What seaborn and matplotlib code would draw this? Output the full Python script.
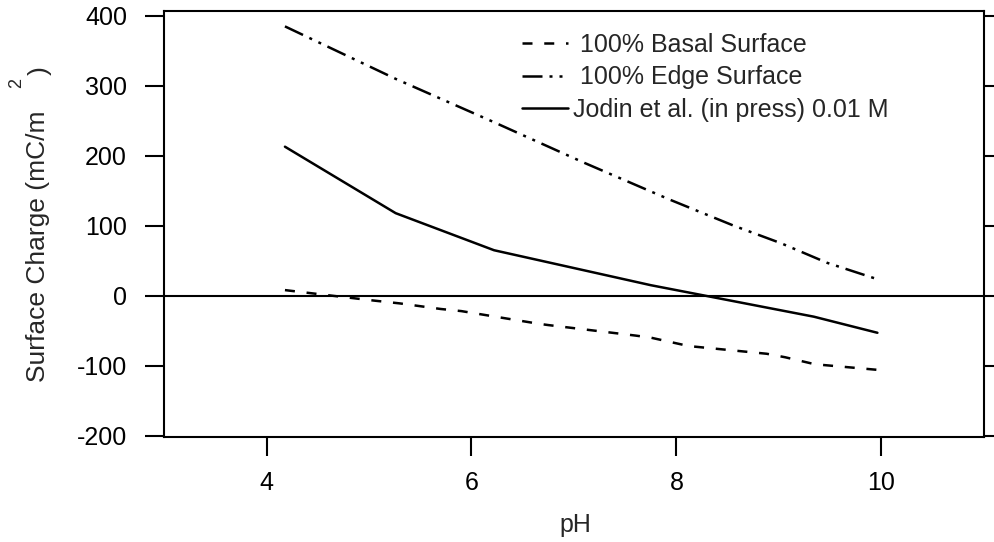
import pandas as pd
import matplotlib
matplotlib.use("Agg")
import matplotlib.pyplot as plt
import seaborn as sns

# 数据
ph_basal = [4.18, 4.64, 5.05, 5.30, 5.70, 5.90, 6.65, 6.75, 7.60, 7.75, 8.12, 8.88, 9.06, 9.35, 9.96]
charge_basal = [8, 0, -7, -11, -19, -22, -40, -42, -57, -60, -72, -83, -88, -98, -106]

ph_edge = [4.18, 5.26, 6.22, 7.10, 7.94, 8.56, 9.02, 9.47, 9.93]
charge_edge = [385, 310, 248, 190, 137, 100, 75, 47, 25]

ph_jodin = [4.18, 5.26, 6.22, 7.75, 9.34, 9.96]
charge_jodin = [213, 118, 65, 15, -30, -53]

series_names = [" 100% Basal Surface", " 100% Edge Surface", "Jodin et al. (in press) 0.01 M"]
x_ticks = [4, 6, 8, 10]
y_ticks = [-200, -100, 0, 100, 200, 300, 400]


def setup_style():
    sns.set_style("ticks")
    plt.rcParams['font.family'] = ['Liberation Sans', 'DejaVu Sans']
    plt.rcParams['font.size'] = 18
    plt.rcParams['axes.unicode_minus'] = False


setup_style()

df = pd.concat([
    pd.DataFrame({'pH': ph_basal, 'charge': charge_basal, 'series': series_names[0]}),
    pd.DataFrame({'pH': ph_edge, 'charge': charge_edge, 'series': series_names[1]}),
    pd.DataFrame({'pH': ph_jodin, 'charge': charge_jodin, 'series': series_names[2]}),
], ignore_index=True)

line_w = 1.8
dash_map = {
    series_names[0]: (4.0, 4.7),
    series_names[1]: (8.0, 2.8, 1.2, 2.8, 1.2, 2.8),
    series_names[2]: "",
}

fig = plt.figure(figsize=(9.95, 5.42), dpi=100)
ax = fig.add_axes([164 / 995, 105 / 542, 820 / 995, 426 / 542])

sns.lineplot(data=df, x='pH', y='charge', style='series', style_order=series_names,
             dashes=dash_map, color='black', linewidth=line_w, estimator=None,
             sort=False, ax=ax)
ax.axhline(0, color='black', linewidth=1.5)

ax.set_xlim(3, 11)
ax.set_ylim(-202, 407)
ax.set_xticks(x_ticks)
ax.set_yticks(y_ticks)
ax.set_xlabel('')
ax.set_ylabel('')

for side in ['left', 'right', 'top', 'bottom']:
    ax.spines[side].set_visible(True)
    ax.spines[side].set_linewidth(1.5)
    ax.spines[side].set_color('black')

ax.tick_params(axis='both', direction='out', length=13.7, width=1.5, colors='black',
               labelsize=18)
ax.tick_params(axis='y', left=True, right=True, labelright=False, pad=13)
ax.tick_params(axis='x', bottom=True, top=False, pad=11)

# 图例
old = ax.get_legend()
handles = list(old.legend_handles)
labels = [t.get_text() for t in old.texts]
old.remove()
for h in handles:
    h.set_color('black')
    h.set_linewidth(line_w)
ax.legend(handles, labels, loc='upper left', bbox_to_anchor=(522 / 995, 1 - 33 / 542),
          bbox_transform=fig.transFigure, frameon=False, fontsize=18,
          handlelength=1.84, handletextpad=0.22, labelspacing=0.33,
          borderpad=0, borderaxespad=0)

# 坐标轴标题
fig.text(575 / 995, 1 - 525 / 542, 'pH', ha='center', va='center', fontsize=18)
fig.text(38 / 995, 1 - 382 / 542, 'Surface Charge (mC/m', rotation=90,
         ha='center', va='bottom', fontsize=19)
fig.text(40 / 995, 1 - 71 / 542, ')', rotation=90, ha='center', va='center', fontsize=19)
fig.text(17 / 995, 1 - 83 / 542, '2', rotation=90, ha='center', va='center', fontsize=13)

fig.savefig('out.png', dpi=100)
